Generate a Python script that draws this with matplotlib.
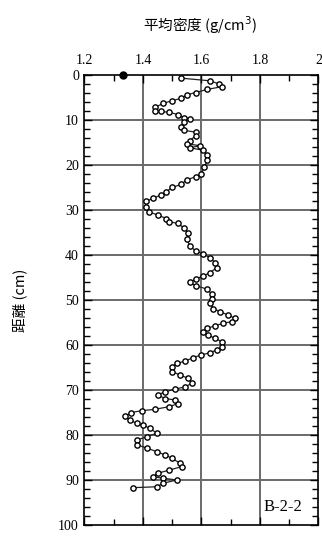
import matplotlib
matplotlib.use("Agg")
import matplotlib.pyplot as plt
from matplotlib.ticker import MultipleLocator

# depth (cm) and mean density (g/cm3)
depth = [0.7, 1.3, 2.0, 2.6, 3.2, 3.9, 4.4, 5.2, 5.7, 6.3, 7.2, 7.9, 8.1, 8.3, 8.8, 9.5, 9.8,
         10.5, 11.6, 12.3, 12.7, 13.5, 14.6, 15.3, 15.7, 16.2, 16.7, 17.8, 18.9, 20.4, 21.9,
         22.6, 23.3, 24.3, 25.0, 25.9, 26.7, 27.4, 28.1, 29.3, 30.4, 31.1, 31.9, 32.6, 33.0,
         34.0, 35.1, 36.5, 38.0, 39.1, 39.8, 40.6, 41.7, 42.8, 43.9, 44.7, 45.3, 46.1, 46.8,
         47.6, 48.7, 49.8, 50.7, 51.9, 52.6, 53.3, 54.1, 54.8, 55.2, 55.7, 56.3, 57.0, 57.8,
         58.5, 59.3, 60.4, 61.1, 61.7, 62.2, 62.8, 63.6, 64.1, 64.8, 65.9, 66.7, 67.4, 68.5,
         69.3, 69.8, 70.4, 71.1, 71.9, 72.2, 73.0, 73.7, 74.3, 74.6, 75.0, 75.8, 76.7, 77.4,
         77.8, 78.5, 79.6, 80.4, 81.1, 82.2, 82.9, 83.7, 84.4, 85.2, 86.3, 87.0, 87.8, 88.5,
         89.3, 89.6, 90.0, 90.7, 91.5, 91.7]
density = [1.53, 1.63, 1.66, 1.67, 1.62, 1.58, 1.55, 1.53, 1.50, 1.47, 1.44, 1.44, 1.46, 1.49,
           1.52, 1.54, 1.56, 1.54, 1.53, 1.54, 1.58, 1.58, 1.56, 1.55, 1.595, 1.56, 1.605, 1.62,
           1.62, 1.61, 1.60, 1.58, 1.55, 1.53, 1.50, 1.48, 1.46, 1.434, 1.41, 1.41, 1.42, 1.45,
           1.48, 1.49, 1.52, 1.54, 1.555, 1.55, 1.56, 1.58, 1.605, 1.63, 1.646, 1.652, 1.63,
           1.605, 1.58, 1.56, 1.58, 1.62, 1.635, 1.635, 1.63, 1.64, 1.663, 1.69, 1.715, 1.703,
           1.674, 1.646, 1.62, 1.605, 1.622, 1.646, 1.67, 1.67, 1.652, 1.63, 1.60, 1.571, 1.544,
           1.515, 1.50, 1.50, 1.527, 1.555, 1.567, 1.544, 1.51, 1.475, 1.45, 1.475, 1.51, 1.52,
           1.49, 1.44, 1.395, 1.36, 1.339, 1.356, 1.378, 1.40, 1.424, 1.447, 1.413, 1.378, 1.38,
           1.413, 1.447, 1.475, 1.50, 1.527, 1.533, 1.49, 1.45, 1.435, 1.47, 1.515, 1.47, 1.447,
           1.367]
surface_depth = [0.0]
surface_density = [1.33]

x_ticks = [1.2, 1.4, 1.6, 1.8, 2.0]
x_ticklabels = ["1.2", "1.4", "1.6", "1.8", "2"]
y_ticks = [0, 10, 20, 30, 40, 50, 60, 70, 80, 90, 100]
title = "平均密度 (g/cm$^3$)"
ylabel = "距離 (cm)"
label = "B-2-2"

serif = ["Liberation Serif", "DejaVu Serif"]
cjk = ["Noto Sans CJK JP", "DejaVu Sans"]

fig = plt.figure(figsize=(3.22, 5.36), dpi=100)
ax = fig.add_axes([0.2624, 0.0205, 0.7267, 0.8396])

ax.set_xlim(1.2, 2.0)
ax.set_ylim(100, 0)

for v in [1.4, 1.6, 1.8]:
    ax.axvline(v, color="#6a6a6a", lw=1.4, zorder=1)
for d in y_ticks[1:-1]:
    ax.axhline(d, color="#6a6a6a", lw=1.4, zorder=1)

ax.plot(density, depth, color="#222222", lw=0.9, marker="o", markersize=3.8,
        markerfacecolor="white", markeredgecolor="black", markeredgewidth=1.0, zorder=3)
ax.plot(surface_density, surface_depth, linestyle="none", marker="o", markersize=5,
        color="black", zorder=4, clip_on=False)

ax.xaxis.tick_top()
ax.set_xticks(x_ticks)
ax.set_xticklabels(x_ticklabels, family=serif, fontsize=10)
ax.set_yticks(y_ticks)
ax.set_yticklabels([str(t) for t in y_ticks], family=serif, fontsize=10)
ax.xaxis.set_minor_locator(MultipleLocator(0.1))
ax.yaxis.set_minor_locator(MultipleLocator(2))
ax.tick_params(which="both", direction="in", top=True, bottom=True, left=True, right=True,
               width=1.0, color="black")
ax.tick_params(which="major", length=6, pad=4)
ax.tick_params(which="minor", length=4)
ax.tick_params(axis="x", which="major", labeltop=True, labelbottom=False, pad=6)

for s in ax.spines.values():
    s.set_linewidth(1.2)

fig.text(0.62, 0.953, title, ha="center", va="center", fontsize=10.5, family=cjk)
fig.text(0.062, 0.44, ylabel, ha="center", va="center", rotation=90, fontsize=10.5, family=cjk)
ax.text(0.85, 0.04, label, transform=ax.transAxes, ha="center", va="center",
        fontsize=12, family=serif)

fig.savefig("out.png", dpi=100)
